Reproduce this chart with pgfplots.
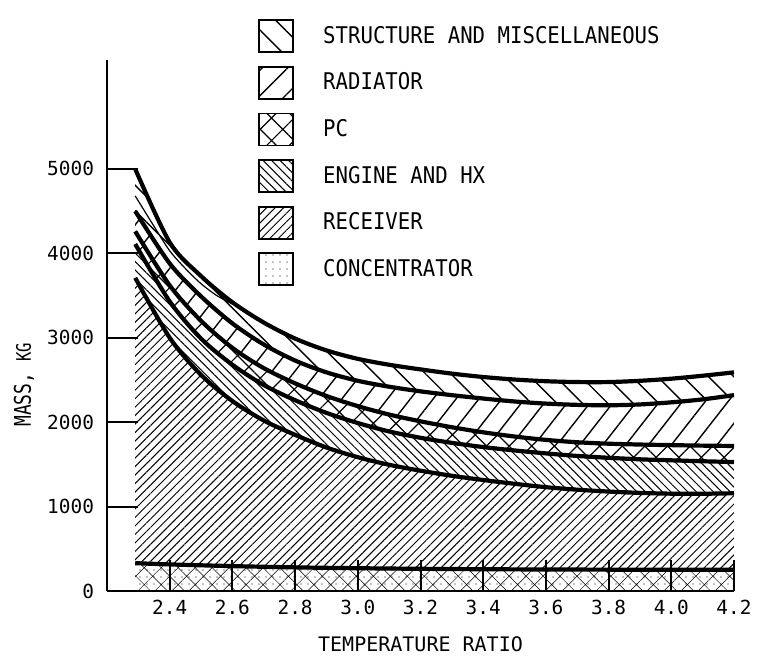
\documentclass[border=0pt]{standalone}
\usepackage{pgfplots}
\pgfplotsset{compat=1.18}
\usepgfplotslibrary{fillbetween}
\usetikzlibrary{patterns.meta}
\usepackage{fontspec}
\setmainfont{DejaVu Sans Mono}[FakeStretch=0.9]
\newfontfamily\tickfont{DejaVu Sans Mono}
\newfontfamily\condfont{DejaVu Sans Mono}[FakeStretch=0.78]

\begin{document}
\begin{tikzpicture}
\begin{axis}[
  scale only axis, width=313.5pt, height=265.5pt,
  xmin=2.2, xmax=4.2, ymin=0, ymax=6290,
  axis x line=bottom, axis y line=left,
  axis line style={-, line width=1pt},
  xtick={2.4,2.6,2.8,3.0,3.2,3.4,3.6,3.8,4.0,4.2},
  xticklabels={2.4,2.6,2.8,3.0,3.2,3.4,3.6,3.8,4.0,4.2},
  ytick={0,1000,2000,3000,4000,5000},
  yticklabels={0,1000,2000,3000,4000,5000},
  tick align=inside, major tick length=15.5pt,
  tick style={line width=1pt, black},
  /pgf/number format/assume math mode=true,
  ticklabel style={font=\tickfont\fontsize{9.7pt}{11pt}\selectfont},
  yticklabel style={xshift=-3pt},
  xticklabel style={yshift=-1pt},
  xlabel={\tickfont\fontsize{10pt}{12pt}\selectfont TEMPERATURE RATIO},
  ylabel={\condfont\fontsize{11.5pt}{12pt}\selectfont MASS, \fontsize{10pt}{12pt}\selectfont KG},
  xlabel style={at={(axis description cs:0.5,-0.1)}, anchor=center},
  ylabel style={at={(axis description cs:-0.1324,0.388)}, anchor=center},
  legend cell align=left,
  legend style={draw=none, fill=none, at={(axis description cs:0.2408,1.0772)}, anchor=north west,
    font=\fontsize{11.5pt}{13pt}\selectfont, row sep=6.4pt, inner sep=0pt,
    nodes={inner sep=0pt}},
  legend image code/.code={\draw[line width=0.9pt, #1] (0pt,-8pt) rectangle (17pt,8pt);},
]
% legend entries
\addlegendimage{pattern={Lines[angle=-45,distance=9pt,line width=0.7pt]}}
\addlegendentry{\hspace{14.5pt}STRUCTURE AND MISCELLANEOUS}
\addlegendimage{pattern={Lines[angle=45,distance=9pt,line width=0.7pt]}, line width=1.6pt}
\addlegendentry{\hspace{14.5pt}RADIATOR}
\addlegendimage{pattern={Hatch[angle=45,distance=8pt,line width=0.6pt]}}
\addlegendentry{\hspace{14.5pt}PC}
\addlegendimage{pattern={Lines[angle=-45,distance=3pt,line width=0.5pt]}}
\addlegendentry{\hspace{14.5pt}ENGINE AND HX}
\addlegendimage{pattern={Lines[angle=45,distance=3pt,line width=0.5pt]}}
\addlegendentry{\hspace{14.5pt}RECEIVER}
\addlegendimage{pattern={Dots[distance=3.5pt,radius=0.35pt]}}
\addlegendentry{\hspace{14.5pt}CONCENTRATOR}

% boundary curves (cumulative mass, kg)
\addplot[name path=S, line width=2.1pt, smooth, forget plot] coordinates {
(2.29,5000) (2.4,4130) (2.5,3730) (2.6,3420) (2.7,3180) (2.8,2990) (2.9,2850) (3.0,2750)
(3.1,2680) (3.2,2625) (3.3,2575) (3.4,2535) (3.5,2505) (3.6,2485) (3.7,2475) (3.8,2475)
(3.9,2490) (4.0,2515) (4.1,2550) (4.2,2590)};
\addplot[line width=0.6pt, smooth, forget plot] coordinates {
(2.29,4680) (2.35,4320) (2.4,4030) (2.45,3820) (2.5,3640) (2.55,3500) (2.6,3400)};
\addplot[name path=R, line width=2.1pt, smooth, forget plot] coordinates {
(2.29,4500) (2.4,3880) (2.5,3490) (2.6,3170) (2.7,2920) (2.8,2730) (2.9,2590) (3.0,2490)
(3.1,2420) (3.2,2365) (3.3,2320) (3.4,2280) (3.5,2245) (3.6,2220) (3.7,2205) (3.8,2200)
(3.9,2210) (4.0,2235) (4.1,2270) (4.2,2320)};
\addplot[name path=P, line width=2.1pt, smooth, forget plot] coordinates {
(2.29,4260) (2.4,3620) (2.5,3200) (2.6,2880) (2.7,2640) (2.8,2460) (2.9,2310) (3.0,2190)
(3.1,2090) (3.2,2010) (3.3,1940) (3.4,1880) (3.5,1830) (3.6,1790) (3.7,1762) (3.8,1745)
(3.9,1735) (4.0,1728) (4.1,1722) (4.2,1718)};
\addplot[name path=E, line width=2.1pt, smooth, forget plot] coordinates {
(2.29,4110) (2.4,3430) (2.5,2990) (2.6,2680) (2.7,2440) (2.8,2260) (2.9,2110) (3.0,1990)
(3.1,1890) (3.2,1815) (3.3,1755) (3.4,1705) (3.5,1665) (3.6,1630) (3.7,1600) (3.8,1578)
(3.9,1560) (4.0,1548) (4.1,1537) (4.2,1528)};
\addplot[name path=C, line width=2.1pt, smooth, forget plot] coordinates {
(2.29,3710) (2.4,3000) (2.5,2560) (2.6,2250) (2.7,2020) (2.8,1850) (2.9,1700) (3.0,1585)
(3.1,1495) (3.2,1425) (3.3,1365) (3.4,1315) (3.5,1270) (3.6,1230) (3.7,1200) (3.8,1178)
(3.9,1162) (4.0,1153) (4.1,1152) (4.2,1158)};
\addplot[name path=K, line width=2.1pt, smooth, forget plot] coordinates {
(2.29,330) (2.4,315) (2.6,295) (2.8,280) (3.0,270) (3.2,263) (3.4,258)
(3.6,255) (3.8,253) (4.0,252) (4.2,252)};
\addplot[name path=B, draw=none, forget plot] coordinates {(2.29,0) (4.2,0)};

\addplot[pattern={Lines[angle=-45,distance=9pt,line width=0.7pt]}, draw=none, forget plot] fill between[of=S and R];
\addplot[pattern={Lines[angle=52,distance=9pt,line width=0.7pt]}, draw=none, forget plot] fill between[of=R and P];
\addplot[pattern={Hatch[angle=45,distance=8pt,line width=0.6pt]}, draw=none, forget plot] fill between[of=P and E];
\addplot[pattern={Lines[angle=-45,distance=3pt,line width=0.5pt]}, draw=none, forget plot] fill between[of=E and C];
\addplot[pattern={Lines[angle=45,distance=3pt,line width=0.5pt]}, draw=none, forget plot] fill between[of=C and K];
\addplot[pattern={Dots[distance=3.5pt,radius=0.35pt]}, draw=none, forget plot] fill between[of=K and B];
\addplot[pattern={Hatch[angle=45,distance=6pt,line width=0.25pt]}, draw=none, forget plot] fill between[of=K and B];
\end{axis}
\path (-53.5pt,-35pt) rectangle (326pt,295.5pt);
\end{tikzpicture}
\end{document}
